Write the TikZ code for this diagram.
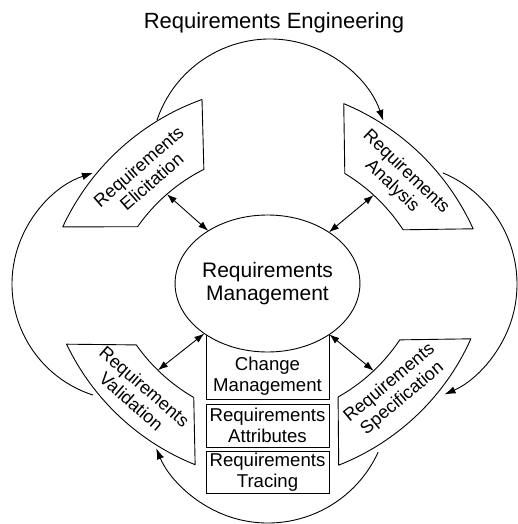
\documentclass[tikz,border=0pt]{standalone}
\usepackage{fontspec}
\setmainfont{Liberation Sans}
\usetikzlibrary{shapes.geometric,arrows.meta,calc}
\begin{document}
\begin{tikzpicture}[x=1pt,y=-1pt,
  ln/.style={line width=0.9pt, draw=black},
  shp/.style={ln, fill=white, line join=round},
  tip/.style={-{Latex[length=11pt,width=7.5pt]}},
  dtip/.style={{Latex[length=10pt,width=7pt]}-{Latex[length=10pt,width=7pt]}},
  stxt/.style={font=\fontsize{18}{20}\selectfont, align=center, inner sep=0pt},
  box/.style={ln, minimum width=123pt, inner sep=0pt, outer sep=0pt, align=center, font=\fontsize{18.6}{20.5}\selectfont}
]
\useasboundingbox (0,0) rectangle (517,524);

% title
\node[font=\fontsize{22}{24}\selectfont] (title) at (274,23) {Requirements Engineering};

% boxes below the management circle
\node[box, minimum height=99pt] (cm) at (267.5,349.5) {};
\node[box, draw=none, anchor=south] (cmt) at ($(cm.south)+(0,-4)$) {Change\\Management};
\node[box, minimum height=43pt] (ra) at (267.5,425.5) {Requirements\\Attributes};
\node[box, minimum height=42pt] (rt) at (267.5,472) {Requirements\\Tracing};

% management circle
\node[ellipse, ln, fill=white, minimum width=157pt, minimum height=137pt, inner sep=0pt, outer sep=0pt,
      align=center, font=\fontsize{21}{22.5}\selectfont] (rm) at (267.5,283.5) {Requirements\\Management};

% process shapes
\draw[shp] (285,330) ++(-155.1:245) arc[start angle=-155.1, end angle=-109.8, radius=245]
   -- ($(285,330)+(-116.8:180)$) arc[start angle=-116.8, end angle=-145, radius=180] -- cycle;
\draw[shp] (250,330) ++(-67.5:245) arc[start angle=-67.5, end angle=-24.4, radius=245]
   -- ($(250,330)+(-33.2:183)$) arc[start angle=-33.2, end angle=-58.8, radius=183] -- cycle;
\draw[shp] (285,240) ++(154.5:242) arc[start angle=154.5, end angle=111.8, radius=242]
   -- ($(285,240)+(120.1:182)$) arc[start angle=120.1, end angle=144.8, radius=182] -- cycle;
\draw[shp] (250,240) ++(24.1:242) arc[start angle=24.1, end angle=68.5, radius=242]
   -- ($(250,240)+(60.7:180)$) arc[start angle=60.7, end angle=33.7, radius=180] -- cycle;

\node[stxt, rotate=41] (el) at (145,174) {Requirements\\Elicitation};
\node[stxt, rotate=-44] (an) at (399,179) {Requirements\\Analysis};
\node[stxt, rotate=-41] (va) at (138,394) {Requirements\\Validation};
\node[stxt, rotate=40] (sp) at (396,391) {Requirements\\Specification};

% double arrows to management
\coordinate (elIn) at ($(285,330)+(-131:180)$);
\coordinate (anIn) at ($(250,330)+(-47.5:183)$);
\coordinate (vaIn) at ($(285,240)+(134.3:182)$);
\coordinate (spIn) at ($(250,240)+(46.6:180)$);
\draw[ln, dtip] (elIn) -- (rm);
\draw[ln, dtip] (anIn) -- (rm);
\draw[ln, dtip] (vaIn) -- (rm);
\draw[ln, dtip] (spIn) -- (rm);

% cycle arrows
\coordinate (topS) at ($(270,158.3)+(-161.4:119.3)$);
\coordinate (rS) at ($(396.7,284)+(-67.5:120.3)$);
\coordinate (bS) at ($(268,402)+(24.5:121)$);
\coordinate (lS) at ($(128.6,284)+(107.8:116.6)$);
\draw[ln, tip] (topS) arc[start angle=-161.4, end angle=-18.3, radius=119.3];
\draw[ln, tip] (rS) arc[start angle=-67.5, end angle=66.6, radius=120.3];
\draw[ln, tip] (bS) arc[start angle=24.5, end angle=157.5, radius=121];
\draw[ln, tip] (lS) arc[start angle=107.8, end angle=252.2, radius=116.6];
\end{tikzpicture}
\end{document}
